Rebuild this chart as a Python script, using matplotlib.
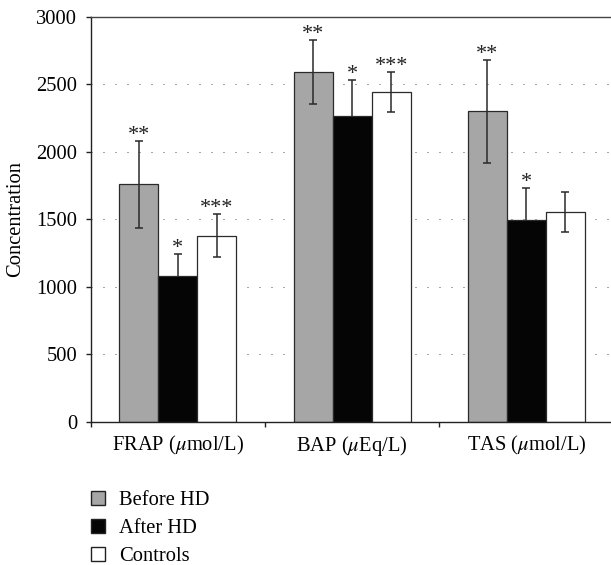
import matplotlib
matplotlib.use("Agg")
import matplotlib.pyplot as plt
import numpy as np
from matplotlib.patches import Patch

categories = ["FRAP ($\\mu$mol/L)", "BAP ($\\mu$Eq/L)", "TAS ($\\mu$mol/L)"]
series_names = ["Before HD", "After HD", "Controls"]
before_hd = [1758, 2590, 2299]
after_hd = [1081, 2267, 1494]
controls = [1378, 2444, 1551]
before_err = [320, 237, 379]
after_err = [161, 264, 235]
controls_err = [160, 148, 148]
before_stars = ["**", "**", "**"]
after_stars = ["*", "*", "*"]
controls_stars = ["***", "***", ""]
yticks = [0, 500, 1000, 1500, 2000, 2500, 3000]

plt.rcParams["font.family"] = ["Liberation Serif", "DejaVu Serif"]
plt.rcParams["mathtext.fontset"] = "stix"

W, H = 611, 565
fig = plt.figure(figsize=(W / 100, H / 100), dpi=100)
ax_left, ax_right, ax_top, ax_bot = 90.7, 613.6, 16.8, 421.7
ax = fig.add_axes([ax_left / W, 1 - ax_bot / H, (ax_right - ax_left) / W, (ax_bot - ax_top) / H])

x = np.arange(len(categories))
bw = 0.2237
colors = ["#a6a6a6", "#050505", "#ffffff"]
vals = [before_hd, after_hd, controls]
errs = [before_err, after_err, controls_err]
stars = [before_stars, after_stars, controls_stars]
fs = 14.8

for i in range(3):
    pos = x + (i - 1) * bw
    ax.bar(pos, vals[i], width=bw, color=colors[i], edgecolor="#2a2a2a",
           linewidth=0.9, zorder=2, label=series_names[i])
    e = np.array(errs[i])
    if i == 1:
        yerr = [np.zeros_like(e), e]
    else:
        yerr = e
    cont = ax.errorbar(pos, vals[i], yerr=yerr, fmt="none", ecolor="#2a2a2a",
                       elinewidth=1.1, capsize=2.8, capthick=1.1, zorder=3)
    if i == 1:
        caps = cont[1]
        if len(caps) > 0:
            caps[0].set_visible(False)
    for p, v, ee, s in zip(pos, vals[i], errs[i], stars[i]):
        if s:
            ax.annotate(s, (p, v + ee), xytext=(0, 0.8), textcoords="offset points",
                        ha="center", va="baseline", fontsize=16, color="#222222")

ax.set_xlim(-0.5, 2.5)
ax.set_ylim(0, 3000)
ax.set_yticks(yticks)
ax.set_yticklabels([str(t) for t in yticks], fontsize=fs)
for t in yticks[1:-1]:
    ax.axhline(t, color="#555555", linewidth=0.72, linestyle=(0, (1, 11)), zorder=1)

ax.set_xticks(x)
ax.set_xticklabels(categories, fontsize=fs)
ax.set_xticks([-0.5, 0.5, 1.5, 2.5], minor=True)
ax.tick_params(axis="x", which="major", length=0, pad=9)
ax.tick_params(axis="x", which="minor", length=3.6, width=1, color="#222222")
ax.tick_params(axis="y", which="major", length=3.6, width=1, pad=6, color="#222222")

ax.spines["right"].set_visible(False)
for s in ["left", "bottom"]:
    ax.spines[s].set_color("#222222")
    ax.spines[s].set_linewidth(1.0)
ax.spines["top"].set_color("#444444")
ax.spines["top"].set_linewidth(1.0)

ax.set_ylabel("Concentration", fontsize=fs, labelpad=8)

handles = [Patch(facecolor=c, edgecolor="#222222", linewidth=1.0) for c in colors]
fig.legend(handles, series_names, loc="upper left",
           bbox_to_anchor=(91 / W, 1 - 491 / H), frameon=False, fontsize=fs,
           handlelength=0.7, handleheight=0.7, handletextpad=0.68,
           labelspacing=0.42, borderpad=0, borderaxespad=0)

fig.savefig("out.png", dpi=100)
